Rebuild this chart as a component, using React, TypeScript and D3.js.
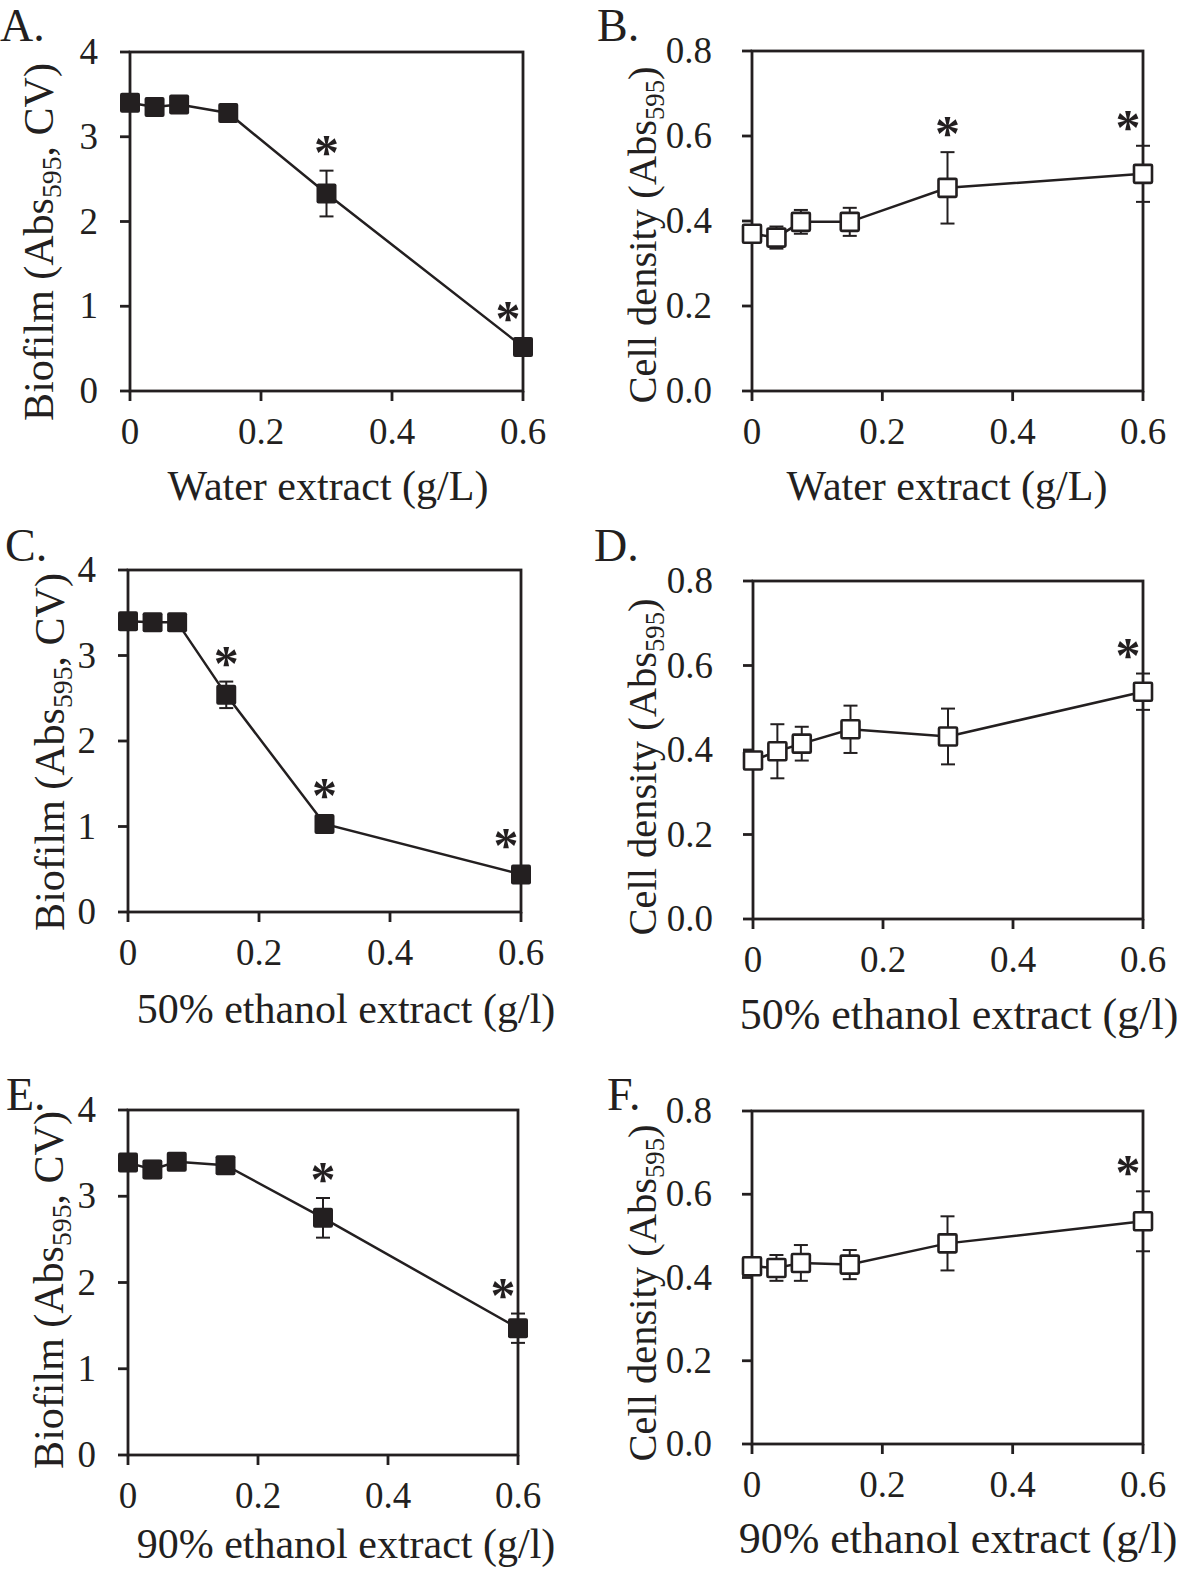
import React, { useEffect, useRef } from "react";
import * as d3 from "d3";

// concentrations (g/L) shared by every panel
const conc = [0, 0.0375, 0.075, 0.15, 0.3, 0.6];
const xTicks = [0, 0.2, 0.4, 0.6];
const biofilmTicks = [0, 1, 2, 3, 4];
const densityTicks = [0, 0.2, 0.4, 0.6, 0.8];

// A. water extract, biofilm
const waterBiofilm = [3.4, 3.35, 3.38, 3.28, 2.33, 0.52];
const waterBiofilmErr = [0.05, 0.04, 0.04, 0.05, 0.27, 0.06];
const waterBiofilmSig = [0.3, 0.6];
// B. water extract, cell density
const waterDensity = [0.37, 0.361, 0.398, 0.398, 0.478, 0.511];
const waterDensityErr = [0.015, 0.026, 0.028, 0.033, 0.084, 0.066];
const waterDensitySig = [0.3, 0.6];
// C. 50% ethanol extract, biofilm
const eth50Biofilm = [3.4, 3.39, 3.39, 2.54, 1.03, 0.44];
const eth50BiofilmErr = [0.04, 0.03, 0.04, 0.155, 0.06, 0.06];
const eth50BiofilmSig = [0.15, 0.3, 0.6];
// D. 50% ethanol extract, cell density
const eth50Density = [0.375, 0.397, 0.415, 0.449, 0.432, 0.538];
const eth50DensityErr = [0.015, 0.064, 0.04, 0.056, 0.066, 0.043];
const eth50DensitySig = [0.6];
// E. 90% ethanol extract, biofilm
const eth90Biofilm = [3.39, 3.31, 3.4, 3.36, 2.75, 1.47];
const eth90BiofilmErr = [0.04, 0.1, 0.04, 0.04, 0.23, 0.17];
const eth90BiofilmSig = [0.3, 0.6];
// F. 90% ethanol extract, cell density
const eth90Density = [0.427, 0.423, 0.435, 0.431, 0.482, 0.535];
const eth90DensityErr = [0.02, 0.031, 0.043, 0.035, 0.065, 0.072];
const eth90DensitySig = [0.6];

const INK = "#231f20";
const FONT = "'Liberation Serif', 'Times New Roman', serif";

type Panel = {
  tag: string;
  values: number[];
  errs: number[];
  sig: number[];
  yTicks: number[];
  yMax: number;
  filled: boolean;
  xTitle: string;
  yTitle: [string, string, string];
  box: { l: number; r: number; t: number; b: number };
  tagPos: [number, number];
  xTitlePos: [number, number, number];
  yTitlePos: [number, number, number];
  yLabelGap: number;
  fmt: (d: number) => string;
};

const biofilmTitle: [string, string, string] = ["Biofilm (Abs", "595", ", CV)"];
const densityTitle: [string, string, string] = ["Cell density (Abs", "595", ")"];
const intFmt = (d: number) => d3.format("d")(d);
const decFmt = (d: number) => d3.format(".1f")(d);

const panels: Panel[] = [
  {
    tag: "A.", values: waterBiofilm, errs: waterBiofilmErr, sig: waterBiofilmSig,
    yTicks: biofilmTicks, yMax: 4, filled: true, xTitle: "Water extract (g/L)", yTitle: biofilmTitle,
    box: { l: 130, r: 523, t: 52, b: 391 }, tagPos: [0, 41], xTitlePos: [328, 500, 42],
    yTitlePos: [53, 242, 42], yLabelGap: 32, fmt: intFmt,
  },
  {
    tag: "B.", values: waterDensity, errs: waterDensityErr, sig: waterDensitySig,
    yTicks: densityTicks, yMax: 0.8, filled: false, xTitle: "Water extract (g/L)", yTitle: densityTitle,
    box: { l: 752, r: 1143, t: 51, b: 391 }, tagPos: [597, 41], xTitlePos: [947, 500, 42],
    yTitlePos: [656, 235, 40.5], yLabelGap: 40, fmt: decFmt,
  },
  {
    tag: "C.", values: eth50Biofilm, errs: eth50BiofilmErr, sig: eth50BiofilmSig,
    yTicks: biofilmTicks, yMax: 4, filled: true, xTitle: "50% ethanol extract (g/l)", yTitle: biofilmTitle,
    box: { l: 128, r: 521, t: 570, b: 912 }, tagPos: [5, 561], xTitlePos: [346, 1023, 42],
    yTitlePos: [64, 752, 42], yLabelGap: 32, fmt: intFmt,
  },
  {
    tag: "D.", values: eth50Density, errs: eth50DensityErr, sig: eth50DensitySig,
    yTicks: densityTicks, yMax: 0.8, filled: false, xTitle: "50% ethanol extract (g/l)", yTitle: densityTitle,
    box: { l: 753, r: 1143, t: 581, b: 919 }, tagPos: [594, 561], xTitlePos: [959, 1029, 44],
    yTitlePos: [656, 767, 40.5], yLabelGap: 40, fmt: decFmt,
  },
  {
    tag: "E.", values: eth90Biofilm, errs: eth90BiofilmErr, sig: eth90BiofilmSig,
    yTicks: biofilmTicks, yMax: 4, filled: true, xTitle: "90% ethanol extract (g/l)", yTitle: biofilmTitle,
    box: { l: 128, r: 518, t: 1110, b: 1455 }, tagPos: [6, 1110], xTitlePos: [346, 1558, 42],
    yTitlePos: [63, 1290, 42], yLabelGap: 32, fmt: intFmt,
  },
  {
    tag: "F.", values: eth90Density, errs: eth90DensityErr, sig: eth90DensitySig,
    yTicks: densityTicks, yMax: 0.8, filled: false, xTitle: "90% ethanol extract (g/l)", yTitle: densityTitle,
    box: { l: 752, r: 1143, t: 1111, b: 1444 }, tagPos: [607, 1110], xTitlePos: [958, 1553, 44],
    yTitlePos: [656, 1293, 40.5], yLabelGap: 40, fmt: decFmt,
  },
];

function drawPanel(svg: d3.Selection<SVGSVGElement, unknown, null, undefined>, p: Panel) {
  const { l, r, t, b } = p.box;
  const x = d3.scaleLinear().domain([0, 0.6]).range([l, r]);
  const y = d3.scaleLinear().domain([0, p.yMax]).range([b, t]);
  const g = svg.append("g");

  // frame
  g.append("rect")
    .attr("x", l).attr("y", t).attr("width", r - l).attr("height", b - t)
    .attr("fill", "none").attr("stroke", INK).attr("stroke-width", 2.8);

  // y ticks + labels
  g.selectAll(".yt").data(p.yTicks).enter().append("line")
    .attr("x1", l - 10).attr("x2", l)
    .attr("y1", (d) => y(d)).attr("y2", (d) => y(d))
    .attr("stroke", INK).attr("stroke-width", 2.8);
  g.selectAll(".yl").data(p.yTicks).enter().append("text")
    .attr("x", l - p.yLabelGap).attr("y", (d) => y(d) + 12)
    .attr("text-anchor", "end").attr("font-size", 37)
    .attr("font-family", FONT).attr("fill", INK)
    .text(p.fmt);

  // x ticks + labels
  g.selectAll(".xt").data(xTicks).enter().append("line")
    .attr("x1", (d) => x(d)).attr("x2", (d) => x(d))
    .attr("y1", b).attr("y2", b + 10)
    .attr("stroke", INK).attr("stroke-width", 2.8);
  g.selectAll(".xl").data(xTicks).enter().append("text")
    .attr("x", (d) => x(d)).attr("y", b + 53)
    .attr("text-anchor", "middle").attr("font-size", 37)
    .attr("font-family", FONT).attr("fill", INK)
    .text((d) => (d === 0 ? "0" : d3.format(".1f")(d)));

  // titles
  g.append("text")
    .attr("x", p.xTitlePos[0]).attr("y", p.xTitlePos[1])
    .attr("text-anchor", "middle").attr("font-size", p.xTitlePos[2])
    .attr("font-family", FONT).attr("fill", INK)
    .text(p.xTitle);

  const fs = p.yTitlePos[2];
  const yt = g.append("text")
    .attr("transform", `translate(${p.yTitlePos[0]},${p.yTitlePos[1]}) rotate(-90)`)
    .attr("text-anchor", "middle").attr("font-size", fs)
    .attr("font-family", FONT).attr("fill", INK);
  yt.append("tspan").text(p.yTitle[0]);
  yt.append("tspan").attr("font-size", fs * 0.66).attr("dy", 8).text(p.yTitle[1]);
  yt.append("tspan").attr("dy", -8).text(p.yTitle[2]);

  g.append("text")
    .attr("x", p.tagPos[0]).attr("y", p.tagPos[1])
    .attr("font-size", 46).attr("font-family", FONT).attr("fill", INK)
    .text(p.tag);

  const pts = conc.map((c, i) => ({ c, v: p.values[i], e: p.errs[i] }));

  // connecting line
  const line = d3.line<{ c: number; v: number }>().x((d) => x(d.c)).y((d) => y(d.v));
  g.append("path").datum(pts).attr("d", line)
    .attr("fill", "none").attr("stroke", INK).attr("stroke-width", 2.5);

  // error bars
  const eb = g.selectAll(".eb").data(pts).enter().append("g");
  eb.append("line")
    .attr("x1", (d) => x(d.c)).attr("x2", (d) => x(d.c))
    .attr("y1", (d) => y(d.v - d.e)).attr("y2", (d) => y(d.v + d.e))
    .attr("stroke", INK).attr("stroke-width", 2);
  [-1, 1].forEach((s) => {
    eb.append("line")
      .attr("x1", (d) => x(d.c) - 7).attr("x2", (d) => x(d.c) + 7)
      .attr("y1", (d) => y(d.v + s * d.e)).attr("y2", (d) => y(d.v + s * d.e))
      .attr("stroke", INK).attr("stroke-width", 2);
  });

  // markers
  const ms = p.filled ? 20 : 18;
  g.selectAll(".mk").data(pts).enter().append("rect")
    .attr("x", (d) => x(d.c) - ms / 2).attr("y", (d) => y(d.v) - ms / 2)
    .attr("width", ms).attr("height", ms).attr("rx", p.filled ? 2 : 1)
    .attr("fill", p.filled ? INK : "#fff")
    .attr("stroke", p.filled ? "none" : INK).attr("stroke-width", 2.6);

  // significance stars
  const sigPts = pts.filter((d) => p.sig.includes(d.c));
  g.selectAll(".st").data(sigPts).enter().append("text")
    .attr("x", (d) => x(d.c) - (x(d.c) >= r - 1 ? 15 : 0))
    .attr("y", (d) => Math.min(y(d.v + d.e), y(d.v) - 10) - 22 + 20)
    .attr("text-anchor", "middle").attr("font-size", 50).attr("font-weight", "bold")
    .attr("font-family", FONT).attr("fill", INK)
    .text("*");
}

export default function App() {
  const ref = useRef<SVGSVGElement>(null);
  useEffect(() => {
    const svg = d3.select(ref.current as SVGSVGElement);
    svg.selectAll("*").remove();
    panels.forEach((p) => drawPanel(svg, p));
  }, []);
  return (
    <svg
      ref={ref}
      width={1181}
      height={1576}
      style={{ position: "absolute", left: 0, top: 0, background: "#fff" }}
    />
  );
}
